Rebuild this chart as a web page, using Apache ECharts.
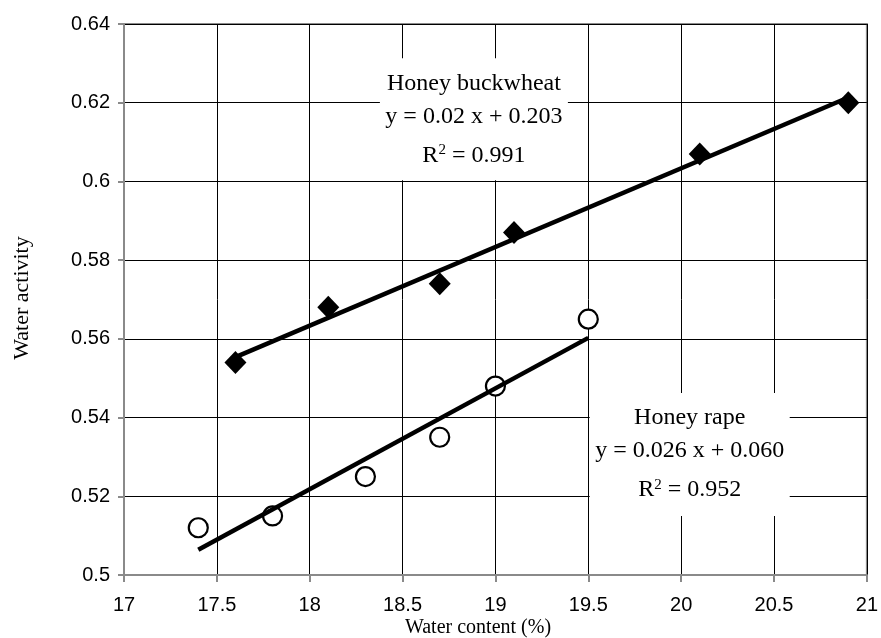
<!DOCTYPE html>
<html>
<head>
<meta charset="utf-8">
<script src="https://cdn.jsdelivr.net/npm/echarts@6/dist/echarts.min.js"></script>
<style>
html,body{margin:0;padding:0;background:#fff;}
#chart{width:881px;height:638px;}
</style>
</head>
<body>
<div id="chart"></div>
<script>
// Data
const buckwheatX = [17.6, 18.1, 18.7, 19.1, 20.1, 20.9];
const buckwheatY = [0.554, 0.568, 0.574, 0.587, 0.607, 0.620];
const rapeX = [17.4, 17.8, 18.3, 18.7, 19.0, 19.5];
const rapeY = [0.512, 0.515, 0.525, 0.535, 0.548, 0.565];

const xTicks = ['17', '17.5', '18', '18.5', '19', '19.5', '20', '20.5', '21'];
const yTicks = ['0.5', '0.52', '0.54', '0.56', '0.58', '0.6', '0.62', '0.64'];

const buckwheatLabel = ['Honey buckwheat', 'y = 0.02 x + 0.203', '0.991'];
const rapeLabel = ['Honey rape', 'y = 0.026 x + 0.060', '0.952'];

function pairs(xs, ys) { return xs.map((x, i) => [x, ys[i]]); }
function fit(xs, ys) {
  const n = xs.length;
  const mx = xs.reduce((a, b) => a + b, 0) / n;
  const my = ys.reduce((a, b) => a + b, 0) / n;
  let sxy = 0, sxx = 0;
  for (let i = 0; i < n; i++) { sxy += (xs[i] - mx) * (ys[i] - my); sxx += (xs[i] - mx) * (xs[i] - mx); }
  const b = sxy / sxx, a = my - b * mx;
  const x0 = Math.min(...xs), x1 = Math.max(...xs);
  return [[x0, a + b * x0], [x1, a + b * x1]];
}

const serif = '"Liberation Serif", "Times New Roman", serif';
const sans = '"Liberation Sans", Arial, sans-serif';

const chart = echarts.init(document.getElementById('chart'), null, {renderer: 'canvas'});
const option = {
  animation: false,
  backgroundColor: '#fff',
  grid: {left: 124, top: 24, right: 11, bottom: 63, show: true, borderColor: '#8a8a8a', borderWidth: 2, backgroundColor: 'transparent'},
  xAxis: {
    type: 'value', min: 17, max: 21, interval: 0.5,
    axisLine: {show: true, lineStyle: {color: '#8a8a8a', width: 2}},
    axisTick: {show: true, inside: false, length: 7, lineStyle: {color: '#8a8a8a', width: 2}},
    axisLabel: {color: '#000', fontFamily: sans, fontSize: 20, margin: 20,
      formatter: (v) => { const s = String(Math.round(v * 10) / 10); return xTicks.includes(s) ? s : ''; }},
    splitLine: {show: true, lineStyle: {color: '#000', width: 1}}
  },
  yAxis: {
    type: 'value', min: 0.5, max: 0.64, interval: 0.02,
    axisLine: {show: true, lineStyle: {color: '#8a8a8a', width: 2}},
    axisTick: {show: true, inside: false, length: 6, lineStyle: {color: '#8a8a8a', width: 2}},
    axisLabel: {color: '#000', fontFamily: sans, fontSize: 20, margin: 14,
      formatter: (v) => { const s = String(Math.round(v * 100) / 100); return yTicks.includes(s) ? s : ''; }},
    splitLine: {show: true, lineStyle: {color: '#000', width: 1}}
  },
  series: [
    {type: 'scatter', name: 'Honey buckwheat', data: pairs(buckwheatX, buckwheatY), symbol: 'diamond', symbolSize: [22, 23],
      itemStyle: {color: '#000', opacity: 1}, z: 3},
    {type: 'scatter', name: 'Honey rape', data: pairs(rapeX, rapeY), symbol: 'circle', symbolSize: 19,
      itemStyle: {color: '#fff', borderColor: '#000', borderWidth: 2.2, opacity: 1}, z: 3},
    {type: 'line', data: fit(buckwheatX, buckwheatY), symbol: 'none', lineStyle: {color: '#000', width: 4.5}, z: 4},
    {type: 'line', data: fit(rapeX, rapeY), symbol: 'none', lineStyle: {color: '#000', width: 4.5}, z: 4}
  ]
};
chart.setOption(option);

function box(center, w, h, lines) {
  const p = chart.convertToPixel({gridIndex: 0}, center);
  return {
    type: 'group', x: p[0], y: p[1], z: 10,
    children: [
      {type: 'rect', shape: {x: -w / 2, y: -h / 2, width: w, height: h}, style: {fill: '#fff'}},
      {type: 'text', x: 0, y: -h / 2 + 25, style: {text: lines[0], font: '24px ' + serif, fill: '#000', textAlign: 'center', textVerticalAlign: 'middle'}},
      {type: 'text', x: 0, y: -h / 2 + 58, style: {text: lines[1], font: '24px ' + serif, fill: '#000', textAlign: 'center', textVerticalAlign: 'middle'}},
      {type: 'text', x: 0, y: -h / 2 + 97, style: {
        text: '{r|R}{s|2}{r| = ' + lines[2] + '}', textAlign: 'center', textVerticalAlign: 'middle',
        rich: {r: {fontFamily: serif, fontSize: 24, fill: '#000', lineHeight: 26}, s: {fontFamily: serif, fontSize: 15, fill: '#000', verticalAlign: 'top', lineHeight: 26, padding: [0, 0, 14, 0]}}
      }}
    ]
  };
}

chart.setOption({
  graphic: [
    box([18.884, 0.6158], 188, 122, buckwheatLabel),
    box([20.046, 0.5306], 200, 123, rapeLabel),
    {type: 'text', x: 478, y: 628, style: {text: 'Water content (%)', font: '20px ' + serif, fill: '#000', textAlign: 'center', textVerticalAlign: 'middle'}},
    {type: 'text', x: 22, y: 298, rotation: Math.PI / 2, style: {text: 'Water activity', font: '22px ' + serif, fill: '#000', textAlign: 'center', textVerticalAlign: 'middle'}}
  ]
});
</script>
</body>
</html>
